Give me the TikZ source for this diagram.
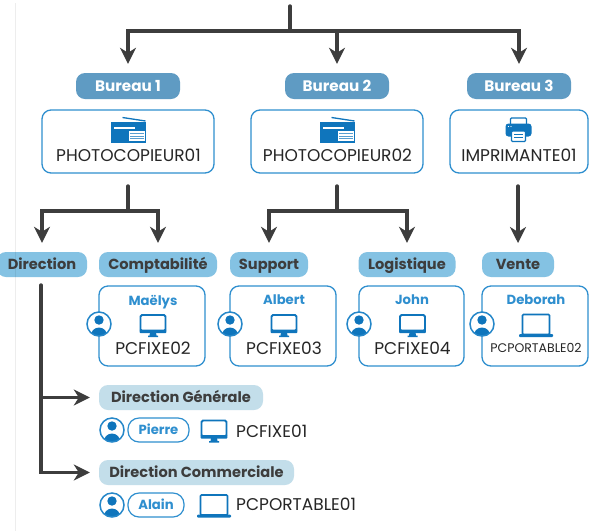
\documentclass[tikz,border=0pt]{standalone}
\usepackage{fontspec}
\setmainfont{Poppins}
\usetikzlibrary{arrows.meta}
\definecolor{inkc}{HTML}{3D3D3D}
\definecolor{bluec}{HTML}{0F75BC}
\definecolor{edgec}{HTML}{2F8FCF}
\definecolor{pilla}{HTML}{5F9BC3}
\definecolor{pillb}{HTML}{84C2E3}
\definecolor{pillc}{HTML}{C3DEEA}
\tikzset{
  x=1pt,y=-1pt,
  conn/.style={draw=inkc,line width=3.4pt,line cap=round},
  arr/.style={conn,-{Stealth[length=16pt,width=16pt,inset=5pt]},shorten >=9pt},
  pillbase/.style={rounded corners=9pt,inner sep=0pt,anchor=center,text depth=0pt},
  bureau/.style={pillbase,fill=pilla,text=white,minimum height=26pt,text height=10.6pt,font=\fontsize{15.2}{17}\selectfont\bfseries},
  dept/.style={pillbase,fill=pillb,text=inkc,minimum height=25pt,text height=10.2pt,font=\fontsize{14.6}{17}\selectfont\bfseries},
  sub/.style={pillbase,fill=pillc,text=inkc,minimum height=25pt,text height=10.2pt,font=\fontsize{14.6}{17}\selectfont\bfseries},
  box/.style={draw=edgec,line width=1.3pt,rounded corners=9pt,fill=white,inner sep=0pt,anchor=center},
  namepill/.style={draw=edgec,line width=1.2pt,rounded corners=11pt,fill=white,text=edgec,inner sep=0pt,minimum height=24pt,text height=9.2pt,text depth=0pt,font=\fontsize{13.2}{15}\selectfont\bfseries},
  who/.style={text=edgec,inner sep=0pt,text height=9.2pt,text depth=0pt,font=\fontsize{13.2}{15}\selectfont\bfseries},
  dev/.style={text=black!85,inner sep=0pt,text height=11.8pt,text depth=0pt,font=\fontsize{17}{19}\selectfont},
  devsmall/.style={text=black!85,inner sep=0pt,text height=8.8pt,text depth=0pt,font=\fontsize{12.5}{14}\selectfont},
  monitor/.pic={
    \draw[bluec,line width=1.8pt,rounded corners=1.5pt] (-12.5,-10.5) rectangle (12.5,5.5);
    \fill[bluec,rounded corners=.8pt] (-13.4,4) rectangle (13.4,7.5);
    \fill[bluec] (-3,7) -- (3,7) -- (3.5,10) -- (5,10) -- (5,11.5) -- (-5,11.5) -- (-5,10) -- (-3.5,10) -- cycle;
  },
  laptop/.pic={
    \draw[bluec,line width=1.7pt,rounded corners=1pt] (-13.5,-11) -- (13.5,-11) -- (13.5,9) -- (-13.5,9) -- cycle;
    \fill[bluec,rounded corners=1pt] (-17,8.5) rectangle (17,11.5);
  },
  copier/.pic={
    \draw[bluec,line width=1.3pt] (-6,-12.5) -- (17,-9);
    \fill[bluec] (-17.5,-8.5) rectangle (17.5,13);
    \fill[white] (-14.5,-3.5) rectangle (6.5,-1);
    \fill[white] (0.5,1) rectangle (16,11);
    \foreach \yy in {3.5,6,8.5} \draw[bluec!70,line width=.7pt] (1.5,\yy) -- (15,\yy);
  },
  printer/.pic={
    \draw[bluec,line width=1.2pt,fill=white,rounded corners=1pt] (-8,-12) rectangle (8,-4);
    \fill[bluec,rounded corners=3pt] (-13,-6.5) rectangle (13,6.5);
    \fill[white] (-10,-3.5) circle (.6) (-7.5,-3.5) circle (.6);
    \draw[bluec,line width=1.2pt,fill=white,rounded corners=1pt] (-7,1) rectangle (7,11.5);
    \foreach \yy in {4.5,7.5} \draw[bluec,line width=.8pt] (-4.5,\yy) -- (4.5,\yy);
  },
  person/.pic={
    \fill[white] (0,0) circle (12);
    \begin{scope}
      \clip (0,0) circle (12);
      \fill[bluec] (0,12.5) ellipse (8.5 and 9);
    \end{scope}
    \fill[bluec] (0,-4) circle (4.7);
    \draw[edgec!70!bluec,line width=1.5pt] (0,0) circle (12);
  },
}
\begin{document}
\begin{tikzpicture}
\useasboundingbox (0,0) rectangle (604,531);
\fill[white] (0,0) rectangle (604,531);

% bureaux
\node[bureau,minimum width=104pt] (b1) at (128,86) {Bureau 1};
\node[bureau,minimum width=104pt] (b2) at (337,86) {Bureau 2};
\node[bureau,minimum width=104pt] (b3) at (519,86) {Bureau 3};
\node[box,minimum width=172pt,minimum height=63pt] (p1) at (128,141.5) {};
\node[box,minimum width=172pt,minimum height=63pt] (p2) at (337,141.5) {};
\node[box,minimum width=138pt,minimum height=63pt] (p3) at (519,141.5) {};
\pic at (128.5,130) {copier};
\pic at (337.5,130) {copier};
\pic at (518.5,130) {printer};
\node[dev] (p1t) at (128.5,156) {PHOTOCOPIEUR01};
\node[dev] (p2t) at (337.5,156) {PHOTOCOPIEUR02};
\node[dev] (p3t) at (519,156) {IMPRIMANTE01};

% departments
\node[dept,minimum width=90pt] (d0) at (42,264.5) {Direction};
\node[dept,minimum width=118pt] (d1) at (158,264.5) {Comptabilité};
\node[dept,minimum width=78pt] (d2) at (269,264.5) {Support};
\node[dept,minimum width=97pt] (d3) at (407,264.5) {Logistique};
\node[dept,minimum width=72pt] (d4) at (518,264.5) {Vente};

% user boxes
\node[box,minimum width=106pt,minimum height=80pt] (u1) at (152,326) {};
\node[box,minimum width=106pt,minimum height=80pt] (u2) at (283,326) {};
\node[box,minimum width=105pt,minimum height=80pt] (u3) at (411.5,326) {};
\node[box,minimum width=106pt,minimum height=80pt] (u4) at (535,326) {};
\node[who] (n1) at (153,301) {Maëlys};
\node[who] (n2) at (284,300) {Albert};
\node[who] (n3) at (412,300) {John};
\node[who] (n4) at (536,300) {Deborah};
\pic at (153,325.5) {monitor};
\pic at (284,325.5) {monitor};
\pic at (412.5,325.5) {monitor};
\pic at (536,325.5) {laptop};
\node[dev] (t1) at (153,349) {PCFIXE02};
\node[dev] (t2) at (284,349) {PCFIXE03};
\node[dev] (t3) at (412.5,349) {PCFIXE04};
\node[devsmall] (t4) at (536,348) {PCPORTABLE02};
\pic at (99,324) {person};
\pic at (230,324) {person};
\pic at (359,324) {person};
\pic at (482,324) {person};

% direction details
\node[sub,minimum width=164pt] (s1) at (181,397.5) {Direction Générale};
\node[sub,minimum width=195pt] (s2) at (196.5,472.5) {Direction Commerciale};
\pic at (112,430) {person};
\pic at (112,505) {person};
\node[namepill,minimum width=61pt] (np) at (158.5,430) {Pierre};
\node[namepill,minimum width=56pt] (na) at (156,505) {Alain};
\pic at (214,431) {monitor};
\pic at (214,506) {laptop};
\node[dev,anchor=west] (t5) at (236,432) {PCFIXE01};
\node[dev,anchor=west] (t6) at (236,505) {PCPORTABLE01};

% connectors
\coordinate (root) at (290,6);
\coordinate (rootj) at (290,31);
\draw[conn] (root) -- (rootj);
\draw[arr] (rootj) -| (b1);
\draw[arr] (rootj) -| (b2);
\draw[arr] (rootj) -| (b3);

\coordinate (j1a) at (128,186);
\coordinate (j1) at (128,211);
\draw[conn] (j1a) -- (j1);
\draw[arr] (j1) -| (d0);
\draw[arr] (j1) -| (d1);

\coordinate (j2a) at (337,186);
\coordinate (j2) at (337,211);
\draw[conn] (j2a) -- (j2);
\draw[arr] (j2) -| (d2);
\draw[arr] (j2) -| (d3);

\coordinate (j3a) at (518,186);
\coordinate (j3b) at (518,252);
\draw[arr] (j3a) -- (j3b);

\coordinate (j4a) at (41,285);
\coordinate (j4) at (41,397.5);
\draw[conn] (j4a) -- (j4);
\draw[arr] (j4) -- (s1);
\draw[arr] (j4) |- (s2);

% faint margin line
\draw[black,opacity=.07,line width=1pt] (15,3) -- (15,531);
\end{tikzpicture}
\end{document}
